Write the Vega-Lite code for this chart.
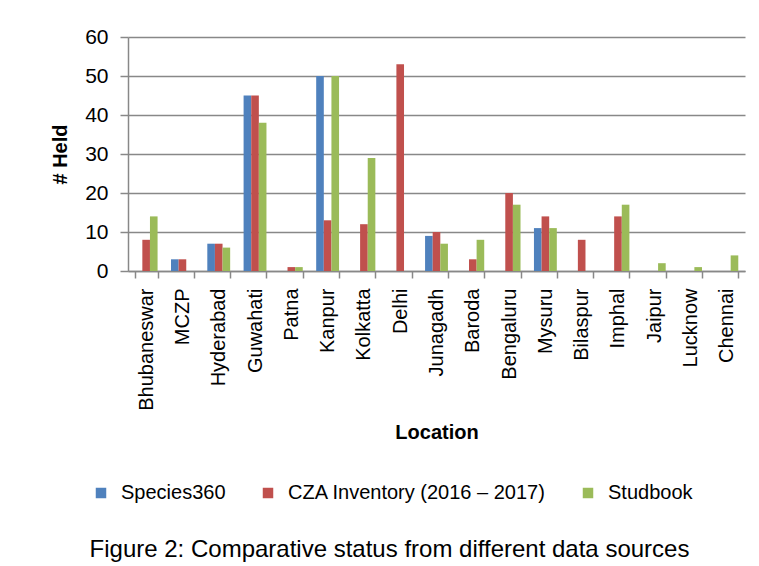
{
  "$schema": "https://vega.github.io/schema/vega-lite/v6.json",
  "width": 617,
  "height": 234,
  "autosize": {"type": "none"},
  "padding": {"left": 128, "top": 37, "right": 14, "bottom": 295},
  "background": "white",
  "title": {
    "text": "Figure 2: Comparative status from different data sources",
    "orient": "bottom",
    "anchor": "middle",
    "dx": -47,
    "offset": 35,
    "font": "Liberation Sans",
    "fontSize": 24,
    "fontWeight": "normal",
    "color": "black"
  },
  "data": {
    "values": [
      {"loc": "Bhubaneswar", "src": "Species360", "v": 0},
      {"loc": "Bhubaneswar", "src": "CZA Inventory (2016 – 2017)", "v": 8},
      {"loc": "Bhubaneswar", "src": "Studbook", "v": 14},
      {"loc": "MCZP", "src": "Species360", "v": 3},
      {"loc": "MCZP", "src": "CZA Inventory (2016 – 2017)", "v": 3},
      {"loc": "MCZP", "src": "Studbook", "v": 0},
      {"loc": "Hyderabad", "src": "Species360", "v": 7},
      {"loc": "Hyderabad", "src": "CZA Inventory (2016 – 2017)", "v": 7},
      {"loc": "Hyderabad", "src": "Studbook", "v": 6},
      {"loc": "Guwahati", "src": "Species360", "v": 45},
      {"loc": "Guwahati", "src": "CZA Inventory (2016 – 2017)", "v": 45},
      {"loc": "Guwahati", "src": "Studbook", "v": 38},
      {"loc": "Patna", "src": "Species360", "v": 0},
      {"loc": "Patna", "src": "CZA Inventory (2016 – 2017)", "v": 1},
      {"loc": "Patna", "src": "Studbook", "v": 1},
      {"loc": "Kanpur", "src": "Species360", "v": 50},
      {"loc": "Kanpur", "src": "CZA Inventory (2016 – 2017)", "v": 13},
      {"loc": "Kanpur", "src": "Studbook", "v": 50},
      {"loc": "Kolkatta", "src": "Species360", "v": 0},
      {"loc": "Kolkatta", "src": "CZA Inventory (2016 – 2017)", "v": 12},
      {"loc": "Kolkatta", "src": "Studbook", "v": 29},
      {"loc": "Delhi", "src": "Species360", "v": 0},
      {"loc": "Delhi", "src": "CZA Inventory (2016 – 2017)", "v": 53},
      {"loc": "Delhi", "src": "Studbook", "v": 0},
      {"loc": "Junagadh", "src": "Species360", "v": 9},
      {"loc": "Junagadh", "src": "CZA Inventory (2016 – 2017)", "v": 10},
      {"loc": "Junagadh", "src": "Studbook", "v": 7},
      {"loc": "Baroda", "src": "Species360", "v": 0},
      {"loc": "Baroda", "src": "CZA Inventory (2016 – 2017)", "v": 3},
      {"loc": "Baroda", "src": "Studbook", "v": 8},
      {"loc": "Bengaluru", "src": "Species360", "v": 0},
      {"loc": "Bengaluru", "src": "CZA Inventory (2016 – 2017)", "v": 20},
      {"loc": "Bengaluru", "src": "Studbook", "v": 17},
      {"loc": "Mysuru", "src": "Species360", "v": 11},
      {"loc": "Mysuru", "src": "CZA Inventory (2016 – 2017)", "v": 14},
      {"loc": "Mysuru", "src": "Studbook", "v": 11},
      {"loc": "Bilaspur", "src": "Species360", "v": 0},
      {"loc": "Bilaspur", "src": "CZA Inventory (2016 – 2017)", "v": 8},
      {"loc": "Bilaspur", "src": "Studbook", "v": 0},
      {"loc": "Imphal", "src": "Species360", "v": 0},
      {"loc": "Imphal", "src": "CZA Inventory (2016 – 2017)", "v": 14},
      {"loc": "Imphal", "src": "Studbook", "v": 17},
      {"loc": "Jaipur", "src": "Species360", "v": 0},
      {"loc": "Jaipur", "src": "CZA Inventory (2016 – 2017)", "v": 0},
      {"loc": "Jaipur", "src": "Studbook", "v": 2},
      {"loc": "Lucknow", "src": "Species360", "v": 0},
      {"loc": "Lucknow", "src": "CZA Inventory (2016 – 2017)", "v": 0},
      {"loc": "Lucknow", "src": "Studbook", "v": 1},
      {"loc": "Chennai", "src": "Species360", "v": 0},
      {"loc": "Chennai", "src": "CZA Inventory (2016 – 2017)", "v": 0},
      {"loc": "Chennai", "src": "Studbook", "v": 4}
    ]
  },
  "mark": {"type": "bar"},
  "encoding": {
    "x": {
      "field": "loc",
      "type": "nominal",
      "sort": null,
      "scale": {"paddingInner": 0.37, "paddingOuter": 0.185},
      "axis": {
        "title": "Location",
        "titleFont": "Liberation Sans",
        "titleFontSize": 20,
        "titleFontWeight": "bold",
        "titleColor": "black",
        "titlePadding": 12,
        "labelAngle": -90,
        "labelFont": "Liberation Sans",
        "labelFontSize": 20,
        "labelColor": "black",
        "labelPadding": 10,
        "tickBand": "extent",
        "tickSize": 7,
        "tickColor": "#888888",
        "tickWidth": 1.5,
        "domainColor": "#888888",
        "domainWidth": 1.5,
        "grid": false
      }
    },
    "xOffset": {"field": "src", "type": "nominal", "sort": ["Species360", "CZA Inventory (2016 – 2017)", "Studbook"], "scale": {"paddingInner": 0, "paddingOuter": 0}},
    "y": {
      "field": "v",
      "type": "quantitative",
      "scale": {"domain": [0, 60], "nice": false},
      "axis": {
        "title": "# Held",
        "titleFont": "Liberation Sans",
        "titleFontSize": 20,
        "titleFontWeight": "bold",
        "titleColor": "black",
        "titlePadding": 14,
        "values": [0, 10, 20, 30, 40, 50, 60],
        "labelFont": "Liberation Sans",
        "labelFontSize": 21,
        "labelColor": "black",
        "labelPadding": 12,
        "tickSize": 8,
        "tickColor": "#888888",
        "tickWidth": 1.5,
        "domainColor": "#888888",
        "domainWidth": 1.5,
        "gridColor": "#888888",
        "gridWidth": 1.5
      }
    },
    "color": {
      "field": "src",
      "type": "nominal",
      "sort": ["Species360", "CZA Inventory (2016 – 2017)", "Studbook"],
      "scale": {"domain": ["Species360", "CZA Inventory (2016 – 2017)", "Studbook"], "range": ["#4F81BD", "#C0504D", "#9BBB59"]},
      "legend": {
        "title": null,
        "orient": "none",
        "direction": "horizontal",
        "legendX": -37,
        "legendY": 446,
        "symbolType": "square",
        "symbolSize": 110,
        "symbolStrokeWidth": 0,
        "labelFont": "Liberation Sans",
        "labelFontSize": 20,
        "labelColor": "black",
        "labelOffset": 10,
        "columnPadding": 32,
        "labelLimit": 400
      }
    }
  },
  "config": {
    "view": {"stroke": null}
  }
}
